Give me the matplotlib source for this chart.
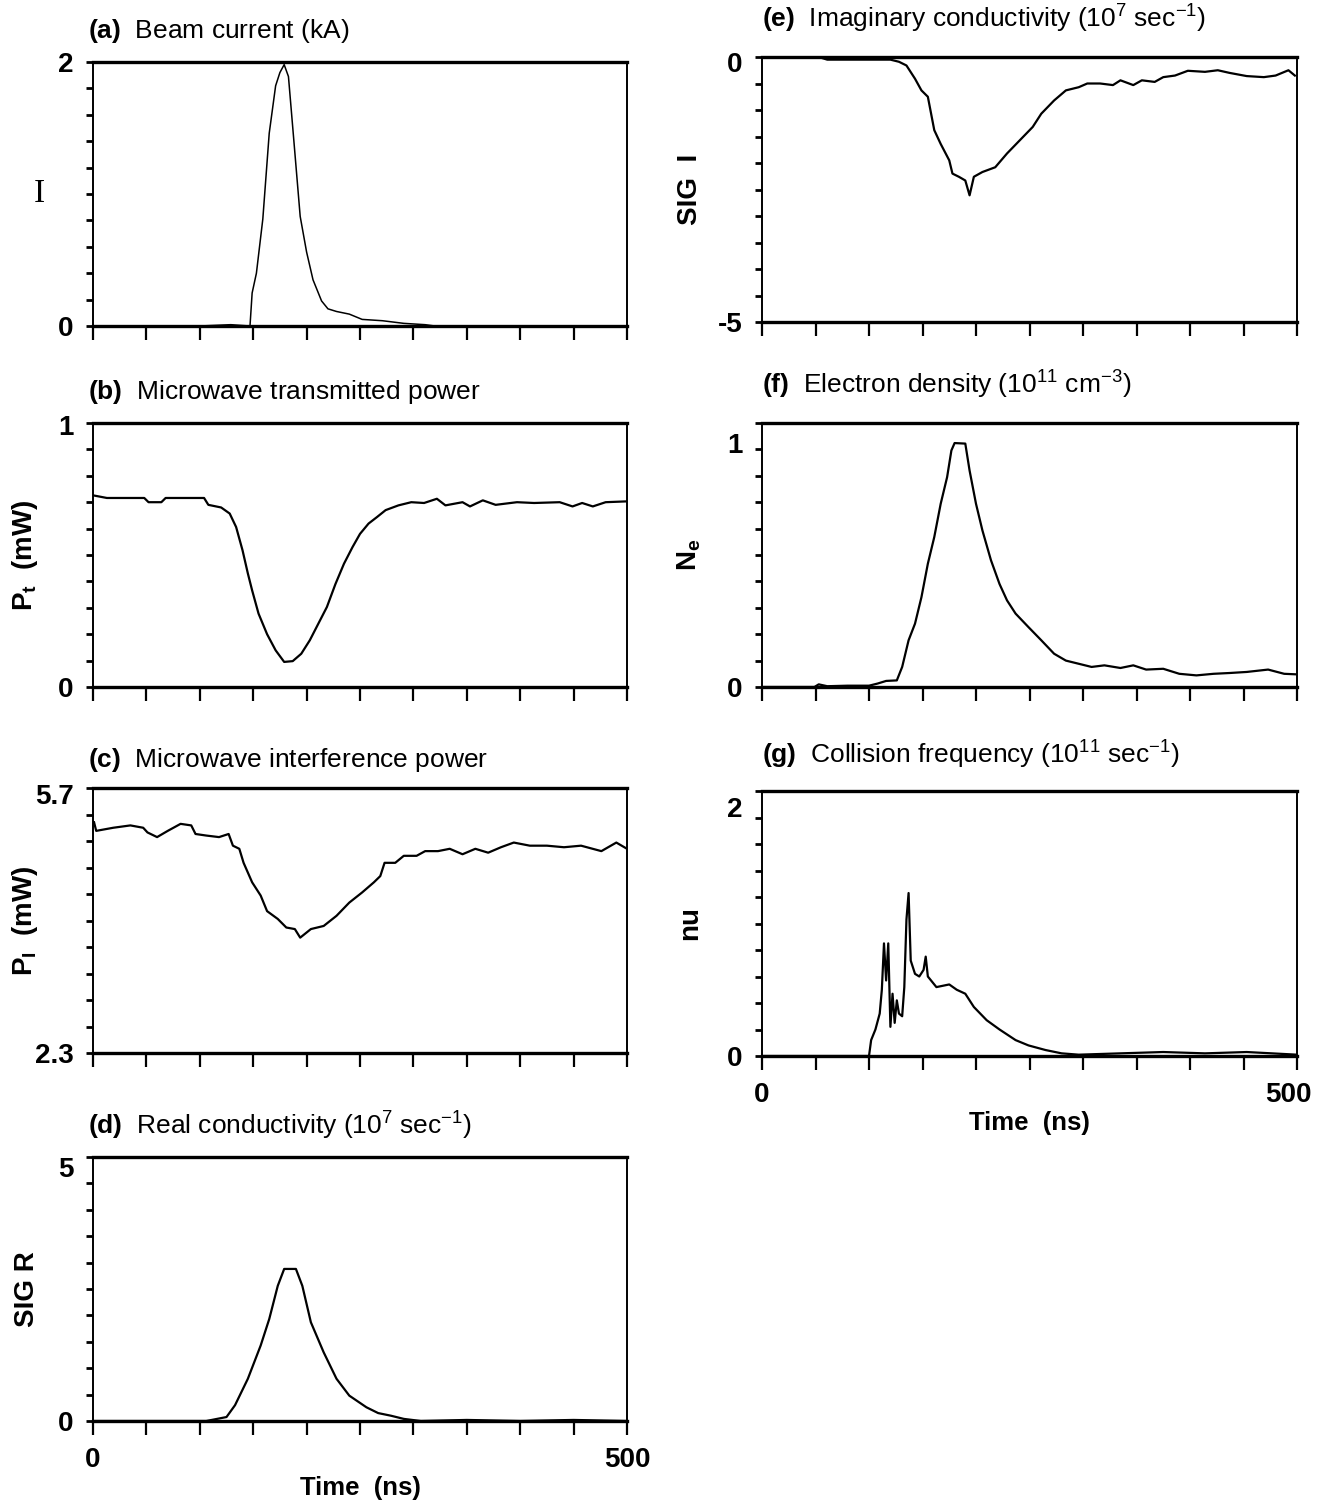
"""
    Seven stacked diagnostics traces vs time (beam shot)
"""

import matplotlib
matplotlib.use("Agg")
import matplotlib.pyplot as plt
import matplotlib.transforms as mtransforms
import numpy as np

plt.rcParams['font.family'] = ['Liberation Sans', 'DejaVu Sans']
plt.rcParams['mathtext.fontset'] = 'custom'
plt.rcParams['mathtext.rm'] = 'Liberation Sans'
plt.rcParams['mathtext.bf'] = 'Liberation Sans:bold'
plt.rcParams['mathtext.it'] = 'Liberation Sans:italic'

# ---- data (time in ns) ----
a_t = [0, 60, 100, 129, 147, 149, 153, 159, 165, 171, 175, 179, 183, 188, 194, 200,
       206, 214, 220, 228, 240, 252, 271, 291, 311, 320, 400, 500]
a_v = [0, 0, 0, 0.01, 0, 0.25, 0.40, 0.81, 1.46, 1.82, 1.92, 1.98, 1.89, 1.41, 0.83, 0.56,
       0.35, 0.19, 0.13, 0.11, 0.09, 0.05, 0.04, 0.02, 0.01, 0, 0, 0]

b_t = [0, 13, 48, 52, 64, 68, 104, 108, 120, 128, 134, 140, 145, 149, 155, 163, 171,
       179, 187, 195, 203, 211, 219, 227, 235, 243, 250, 258, 266, 274, 286, 298, 310,
       322, 330, 346, 353, 365, 377, 397, 413, 437, 449, 458, 468, 480, 499]
b_v = [0.726, 0.716, 0.716, 0.70, 0.70, 0.716, 0.716, 0.69, 0.68, 0.657, 0.606, 0.518,
       0.43, 0.366, 0.278, 0.2, 0.139, 0.095, 0.098, 0.126, 0.177, 0.24, 0.303, 0.39,
       0.467, 0.53, 0.58, 0.619, 0.644, 0.67, 0.688, 0.70, 0.697, 0.713, 0.688, 0.70,
       0.684, 0.707, 0.69, 0.70, 0.697, 0.70, 0.684, 0.697, 0.684, 0.70, 0.703]

c_t = [1, 3, 19, 35, 47, 51, 60, 70, 82, 92, 96, 106, 118, 127, 131, 137, 141, 149,
       157, 163, 173, 181, 189, 194, 204, 216, 228, 240, 252, 263, 269, 273, 283, 291,
       303, 311, 323, 334, 346, 358, 370, 382, 394, 409, 425, 441, 457, 476, 490, 500]
c_v = [5.26, 5.15, 5.19, 5.22, 5.19, 5.13, 5.07, 5.15, 5.24, 5.22, 5.11, 5.09, 5.07,
       5.11, 4.96, 4.92, 4.74, 4.49, 4.32, 4.12, 4.02, 3.91, 3.89, 3.78, 3.89, 3.93,
       4.06, 4.23, 4.36, 4.49, 4.57, 4.74, 4.74, 4.83, 4.83, 4.89, 4.89, 4.92, 4.85,
       4.92, 4.87, 4.94, 5.0, 4.96, 4.96, 4.94, 4.96, 4.89, 5.0, 4.92]

d_t = [0, 100, 106, 125, 133, 145, 157, 165, 173, 179, 190, 196, 204, 216, 228, 240,
       256, 267, 279, 291, 307, 350, 400, 450, 500]
d_v = [0, 0, 0, 0.075, 0.3, 0.8, 1.43, 1.93, 2.56, 2.88, 2.88, 2.56, 1.87, 1.30, 0.8,
       0.48, 0.26, 0.15, 0.10, 0.04, 0, 0.02, 0, 0.02, 0]

e_t = [0, 53, 61, 120, 128, 135, 143, 149, 155, 161, 167, 175, 178, 184, 190, 194,
       198, 206, 218, 229, 241, 253, 261, 273, 284, 296, 304, 316, 328, 335, 347, 355,
       367, 375, 386, 398, 414, 426, 437, 453, 469, 480, 492, 498]
e_v = [0, 0, -0.05, -0.05, -0.09, -0.16, -0.41, -0.63, -0.75, -1.38, -1.64, -1.95,
       -2.2, -2.26, -2.33, -2.61, -2.26, -2.17, -2.08, -1.82, -1.57, -1.32, -1.07,
       -0.82, -0.63, -0.57, -0.5, -0.5, -0.53, -0.44, -0.53, -0.44, -0.47, -0.38,
       -0.35, -0.26, -0.28, -0.25, -0.30, -0.36, -0.38, -0.35, -0.25, -0.35]

f_t = [0, 49, 53, 61, 80, 100, 108, 116, 126, 131, 137, 143, 149, 155, 161, 167, 173,
       177, 180, 190, 194, 200, 206, 214, 222, 229, 237, 249, 261, 273, 284, 296, 308,
       320, 335, 347, 359, 375, 390, 406, 422, 437, 453, 473, 488, 499]
f_v = [0, 0, 0.01, 0.003, 0.005, 0.005, 0.013, 0.023, 0.025, 0.076, 0.177, 0.24, 0.34,
       0.467, 0.568, 0.694, 0.795, 0.896, 0.924, 0.922, 0.82, 0.694, 0.593, 0.48, 0.39,
       0.328, 0.278, 0.227, 0.177, 0.126, 0.10, 0.088, 0.076, 0.082, 0.072, 0.082,
       0.066, 0.069, 0.05, 0.044, 0.05, 0.053, 0.057, 0.066, 0.05, 0.048]

g_t = [0, 100, 102, 106, 110, 112, 114, 116, 118, 120, 122, 124, 126, 128, 131, 133,
       135, 137, 139, 143, 147, 151, 153, 155, 163, 175, 182, 190, 198, 210, 222, 237,
       249, 265, 280, 296, 335, 375, 414, 453, 500]
g_v = [0, 0, 0.12, 0.2, 0.32, 0.5, 0.85, 0.57, 0.85, 0.22, 0.47, 0.25, 0.42, 0.32,
       0.30, 0.52, 1.03, 1.23, 0.72, 0.62, 0.6, 0.65, 0.75, 0.6, 0.52, 0.54, 0.5, 0.47,
       0.37, 0.27, 0.2, 0.12, 0.08, 0.045, 0.02, 0.01, 0.02, 0.03, 0.02, 0.03, 0.01]

W, H = 1317, 1501
LX, LW = 93, 534
RX, RW = 762, 535


def rect(x0, width, top, bottom):
    return [x0 / W, 1 - bottom / H, width / W, (bottom - top) / H]


def nudge(lab, dx, dy):
    """shift a tick label by some pixels (figure is at 100 dpi)"""
    lab.set_transform(lab.get_transform() +
                      mtransforms.ScaledTranslation(dx / 100, dy / 100, fig.dpi_scale_trans))


# (rect, title, title pad, ylabel, ylim, end labels, top-label drop px, time axis, data)
panels = [
    (rect(LX, LW, 62, 326), r"$\mathbf{(a)}$  Beam current (kA)", 17, "I",
     (0, 2), ("0", "2"), 0, False, a_t, a_v),
    (rect(LX, LW, 423, 687), r"$\mathbf{(b)}$  Microwave transmitted power", 17,
     r"P$_{\mathbf{t}}$  (mW)", (0, 1), ("0", "1"), 2, False, b_t, b_v),
    (rect(LX, LW, 788, 1053), r"$\mathbf{(c)}$  Microwave interference power", 15,
     r"P$_{\mathbf{I}}$  (mW)", (2.3, 5.7), ("2.3", "5.7"), 6, False, c_t, c_v),
    (rect(LX, LW, 1157, 1421),
     r"$\mathbf{(d)}$  Real conductivity (10$^{7}$ sec$^{-1}$)", 16,
     "SIG R", (0, 5), ("0", "5"), 10, True, d_t, d_v),
    (rect(RX, RW, 57, 322),
     r"$\mathbf{(e)}$  Imaginary conductivity (10$^{7}$ sec$^{-1}$)", 21,
     "SIG  I", (-5, 0), ("-5", "0"), 5, False, e_t, e_v),
    (rect(RX, RW, 423, 687),
     r"$\mathbf{(f)}$  Electron density (10$^{11}$ cm$^{-3}$)", 21,
     r"N$_{\mathbf{e}}$", (0, 1), ("0", "1"), 20, False, f_t, f_v),
    (rect(RX, RW, 791, 1056),
     r"$\mathbf{(g)}$  Collision frequency (10$^{11}$ sec$^{-1}$)", 20,
     "nu", (0, 2), ("0", "2"), 16, True, g_t, g_v),
]

fig = plt.figure(figsize=(W / 100, H / 100), dpi=100)

for pos, title, tpad, ylab, ylim, ylabs, drop, show_time, t, v in panels:
    ax = fig.add_axes(pos)
    lw = 1.1 if ylab == "I" else 1.6
    ax.plot(t, v, color='black', linewidth=lw)
    ax.set_xlim(0, 500)
    ax.set_ylim(*ylim)
    right_col = pos[0] > 0.5

    # 10 divisions on each axis, labels only at the ends
    ax.set_xticks(np.linspace(0, 500, 11))
    if show_time:
        ax.set_xticklabels(["0"] + [""] * 9 + ["500"])
        ax.set_xlabel("Time  (ns)", fontsize=18.5, fontweight='bold', labelpad=2)
    else:
        ax.set_xticklabels([""] * 11)
    ax.set_yticks(np.linspace(ylim[0], ylim[1], 11))
    ax.set_yticklabels([ylabs[0]] + [""] * 9 + [ylabs[1]])

    ax.tick_params(axis='x', direction='out', length=10, width=1.6, pad=9,
                   labelsize=20)
    ax.tick_params(axis='y', direction='out', length=5, width=2.0, pad=9,
                   labelsize=20)
    for lab in ax.get_xticklabels() + ax.get_yticklabels():
        lab.set_fontweight('bold')

    # the top number sits a little low in the original
    if drop:
        nudge(ax.get_yticklabels()[-1], 0, -drop)
    # keep the right-hand "500" inside the page
    if show_time and right_col:
        nudge(ax.get_xticklabels()[-1], -9, 0)

    for side in ('top', 'bottom'):
        ax.spines[side].set_linewidth(2.4)
    for side in ('left', 'right'):
        ax.spines[side].set_linewidth(1.4)

    ax.set_title(title, loc='left', fontsize=19, pad=tpad,
                 x=-0.01 if not right_col else 0.0)

    if ylab == "I":
        ax.set_ylabel(ylab, fontsize=24, family='Liberation Serif', rotation=0,
                      va='center')
    else:
        ax.set_ylabel(ylab, fontsize=20, fontweight='bold')
    ax.yaxis.set_label_coords(-0.11 if right_col else -0.1, 0.5)

fig.savefig("out.png", dpi=100)
